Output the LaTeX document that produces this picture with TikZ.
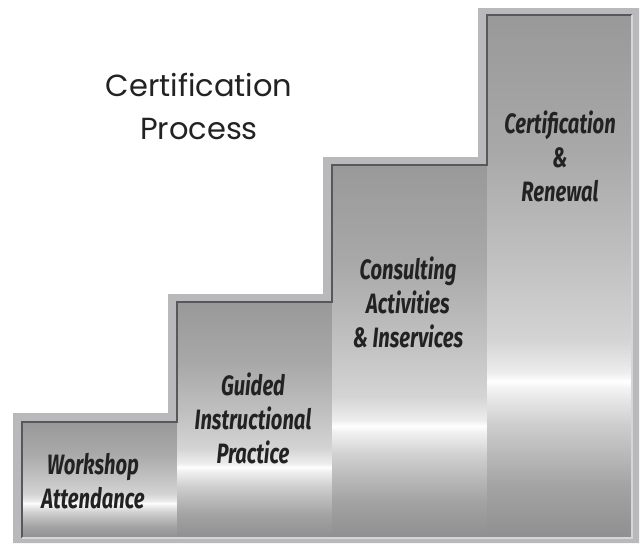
\documentclass[tikz,border=0pt]{standalone}
\usepackage{fontspec}
\newfontfamily\titlefont{Poppins}
\newfontfamily\barfont[FakeStretch=0.72]{Fira Sans}
\definecolor{bandc}{HTML}{B9B9BC}
\definecolor{darkedge}{HTML}{58585C}
\definecolor{lightedge}{HTML}{D6D6D8}
\definecolor{txt}{HTML}{222222}
\pgfdeclareverticalshading{barshine}{100bp}{%
  color(0bp)=(black!44!white);
  color(25bp)=(black!44!white);
  color(30bp)=(black!36!white);
  color(36bp)=(black!19!white);
  color(39.3bp)=(black!5!white);
  color(40bp)=(white);
  color(40.8bp)=(black!7!white);
  color(44bp)=(black!17!white);
  color(52bp)=(black!25!white);
  color(62bp)=(black!34!white);
  color(75bp)=(black!40!white);
  color(100bp)=(black!40!white)}
\tikzset{
  barbox/.style={rectangle, inner sep=0pt, outer sep=0pt, anchor=north west, shading=barshine},
  barlabel/.style={align=center, text=txt, font={\barfont\bfseries\itshape\fontsize{28}{34}\selectfont}},
  titlelabel/.style={align=center, text=txt, font={\titlefont\fontsize{30.5}{43}\selectfont}}
}
\begin{document}
\begin{tikzpicture}[x=1pt,y=-1pt]
\useasboundingbox (0,0) rectangle (641,544);
% outer light band
\fill[bandc] (13,543) -- (13,413) -- (168,413) -- (168,294) -- (323,294) -- (323,157)
  -- (478,157) -- (478,8) -- (639,8) -- (639,543) -- cycle;
% bars
\node[barbox, minimum width=155pt, minimum height=116pt] (b1) at (22,422) {};
\node[barbox, minimum width=155pt, minimum height=236pt] (b2) at (177,302) {};
\node[barbox, minimum width=155pt, minimum height=373pt] (b3) at (332,165) {};
\node[barbox, minimum width=145pt, minimum height=523pt] (b4) at (487,15) {};
% edges
\draw[darkedge, line width=2.6pt] (b1.south west) -- (b1.north west) -- (b1.north east)
  -- (b2.north west) -- (b2.north east) -- (b3.north west) -- (b3.north east)
  -- (b4.north west) -- (b4.north east);
\draw[lightedge, line width=2pt] (b4.north east) -- (b4.south east) -- (b1.south west);
% labels
\node[titlelabel] (title) at (199,106) {Certification\\Process};
\node[barlabel] (l1) at (93,481) {Workshop\\Attendance};
\node[barlabel] (l2) at (253,418) {Guided\\Instructional\\Practice};
\node[barlabel] (l3) at (408,302) {Consulting\\Activities\\\& Inservices};
\node[barlabel] (l4) at (560,156) {Certification\\\&\\Renewal};
\end{tikzpicture}
\end{document}
